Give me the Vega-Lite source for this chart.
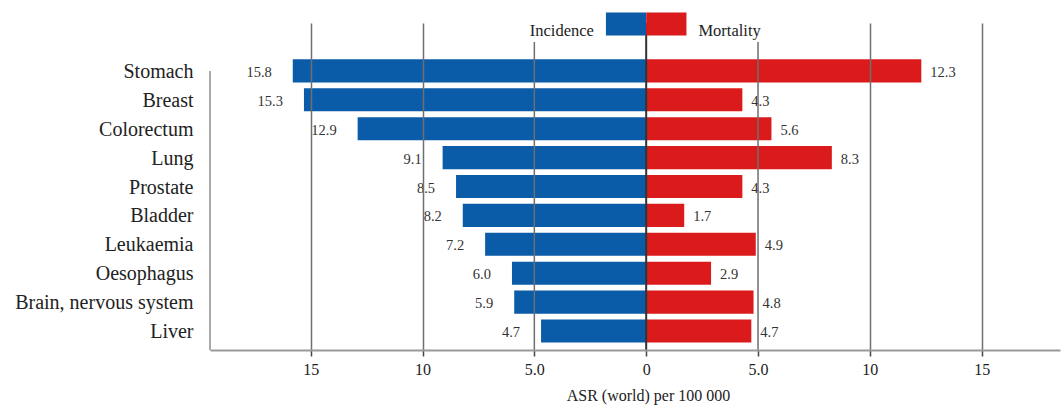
{
  "$schema": "https://vega.github.io/schema/vega-lite/v6.json",
  "width": 850,
  "height": 327,
  "autosize": {"type": "none"},
  "padding": {"left": 210, "top": 23, "right": 3, "bottom": 56},
  "background": "white",
  "config": {"view": {"stroke": null}, "font": "Liberation Serif"},
  "data": {
    "values": [
      {"cancer": "Stomach", "incidence": 15.8, "mortality": 12.3},
      {"cancer": "Breast", "incidence": 15.3, "mortality": 4.3},
      {"cancer": "Colorectum", "incidence": 12.9, "mortality": 5.6},
      {"cancer": "Lung", "incidence": 9.1, "mortality": 8.3},
      {"cancer": "Prostate", "incidence": 8.5, "mortality": 4.3},
      {"cancer": "Bladder", "incidence": 8.2, "mortality": 1.7},
      {"cancer": "Leukaemia", "incidence": 7.2, "mortality": 4.9},
      {"cancer": "Oesophagus", "incidence": 6.0, "mortality": 2.9},
      {"cancer": "Brain, nervous system", "incidence": 5.9, "mortality": 4.8},
      {"cancer": "Liver", "incidence": 4.7, "mortality": 4.7}
    ]
  },
  "layer": [
    {
      "layer": [
        {
          "mark": {"type": "bar", "color": "#0a5ba8"},
          "encoding": {
            "y": {
              "field": "cancer",
              "type": "nominal",
              "sort": null,
              "scale": {
                "domain": ["legend", "Stomach", "Breast", "Colorectum", "Lung", "Prostate", "Bladder", "Leukaemia", "Oesophagus", "Brain, nervous system", "Liver"],
                "paddingInner": 0.2,
                "paddingOuter": 0.257
              },
              "axis": {
                "title": null,
                "domain": false,
                "ticks": false,
                "grid": false,
                "labelFont": "Liberation Serif",
                "labelFontSize": 20,
                "labelColor": "#222",
                "labelPadding": 17,
                "labelOffset": 1,
                "labelExpr": "datum.value == 'legend' ? '' : datum.value"
              }
            },
            "x": {
              "field": "incidence",
              "type": "quantitative",
              "scale": {"domain": [-18.5, 19.5], "reverse": true, "nice": false, "zero": false},
              "axis": {
                "values": [-15, -10, -5, 0, 5, 10, 15],
                "labelExpr": "abs(datum.value) == 5 ? '5.0' : '' + abs(datum.value)",
                "title": "ASR (world) per 100 000",
                "titleFont": "Liberation Serif",
                "titleFontSize": 16,
                "titleFontWeight": "normal",
                "titleColor": "#222",
                "titleX": 438,
                "titleAlign": "center",
                "titlePadding": 10,
                "labelFont": "Liberation Serif",
                "labelFontSize": 16,
                "labelColor": "#222",
                "labelPadding": 5,
                "labelFlush": false,
                "labelOverlap": false,
                "tickSize": 6,
                "tickColor": "#444",
                "tickWidth": 1.5,
                "domainColor": "#999",
                "domainWidth": 2,
                "grid": true,
                "gridColor": "#6f6f6f",
                "gridWidth": 1.5,
                "gridOpacity": {"condition": {"test": "abs(datum.value) == 5 || datum.value == 0", "value": 0}, "value": 1},
                "zindex": 1
              }
            },
            "x2": {"datum": 0}
          }
        },
        {
          "mark": {"type": "text", "align": "right", "baseline": "middle", "dx": -21, "dy": 2, "fontSize": 14.5, "font": "Liberation Serif", "color": "#333"},
          "encoding": {
            "y": {"field": "cancer", "type": "nominal"},
            "x": {"field": "incidence", "type": "quantitative", "scale": {"domain": [-18.5, 19.5], "reverse": true, "nice": false, "zero": false}},
            "text": {"field": "incidence", "type": "quantitative", "format": ".1f"}
          }
        }
      ]
    },
    {
      "layer": [
        {
          "mark": {"type": "bar", "color": "#db1b1b"},
          "encoding": {
            "y": {"field": "cancer", "type": "nominal"},
            "x": {"field": "mortality", "type": "quantitative", "scale": {"domain": [-19.5, 18.5], "nice": false, "zero": false}, "axis": null},
            "x2": {"datum": 0}
          }
        },
        {
          "mark": {"type": "text", "align": "left", "baseline": "middle", "dx": 9, "dy": 2, "fontSize": 14.5, "font": "Liberation Serif", "color": "#333"},
          "encoding": {
            "y": {"field": "cancer", "type": "nominal"},
            "x": {"field": "mortality", "type": "quantitative"},
            "text": {"field": "mortality", "type": "quantitative", "format": ".1f"}
          }
        },
        {
          "data": {"values": [{}]},
          "mark": {"type": "rule", "color": "#6f6f6f", "strokeWidth": 1.5},
          "encoding": {
            "x": {"datum": 5, "type": "quantitative"},
            "y": {"datum": "legend", "type": "nominal"},
            "y2": {"value": "height"}
          }
        },
        {
          "data": {"values": [{}]},
          "mark": {"type": "rule", "color": "#6f6f6f", "strokeWidth": 1.5},
          "encoding": {
            "x": {"datum": -5, "type": "quantitative"},
            "y": {"datum": "legend", "type": "nominal"},
            "y2": {"value": "height"}
          }
        },
        {
          "data": {"values": [{}]},
          "mark": {"type": "rule", "color": "#aaa", "strokeWidth": 2},
          "encoding": {
            "x": {"datum": -19.5, "type": "quantitative"},
            "y": {"datum": "Stomach", "type": "nominal"},
            "y2": {"value": "height"}
          }
        },
        {
          "data": {"values": [{}]},
          "mark": {"type": "rule", "color": "#333", "strokeWidth": 2},
          "encoding": {
            "x": {"datum": 0, "type": "quantitative"}
          }
        },
        {
          "data": {"values": [{"series": "Incidence"}]},
          "mark": {"type": "bar", "color": "#0a5ba8", "yOffset": -18},
          "encoding": {
            "x": {"datum": -1.8, "type": "quantitative"},
            "x2": {"datum": 0},
            "y": {"datum": "legend", "type": "nominal"}
          }
        },
        {
          "data": {"values": [{"series": "Mortality"}]},
          "mark": {"type": "bar", "color": "#db1b1b", "yOffset": -18},
          "encoding": {
            "x": {"datum": 1.8, "type": "quantitative"},
            "x2": {"datum": 0},
            "y": {"datum": "legend", "type": "nominal"}
          }
        },
        {
          "data": {"values": [{"series": "Incidence"}]},
          "mark": {"type": "text", "align": "right", "baseline": "middle", "dx": -12, "dy": -11, "fontSize": 16.5, "font": "Liberation Serif", "color": "#222"},
          "encoding": {
            "x": {"datum": -1.8, "type": "quantitative"},
            "y": {"datum": "legend", "type": "nominal"},
            "text": {"field": "series"}
          }
        },
        {
          "data": {"values": [{"series": "Mortality"}]},
          "mark": {"type": "text", "align": "left", "baseline": "middle", "dx": 12, "dy": -11, "fontSize": 16.5, "font": "Liberation Serif", "color": "#222"},
          "encoding": {
            "x": {"datum": 1.8, "type": "quantitative"},
            "y": {"datum": "legend", "type": "nominal"},
            "text": {"field": "series"}
          }
        }
      ]
    }
  ],
  "resolve": {"scale": {"x": "independent"}, "axis": {"x": "independent"}}
}
